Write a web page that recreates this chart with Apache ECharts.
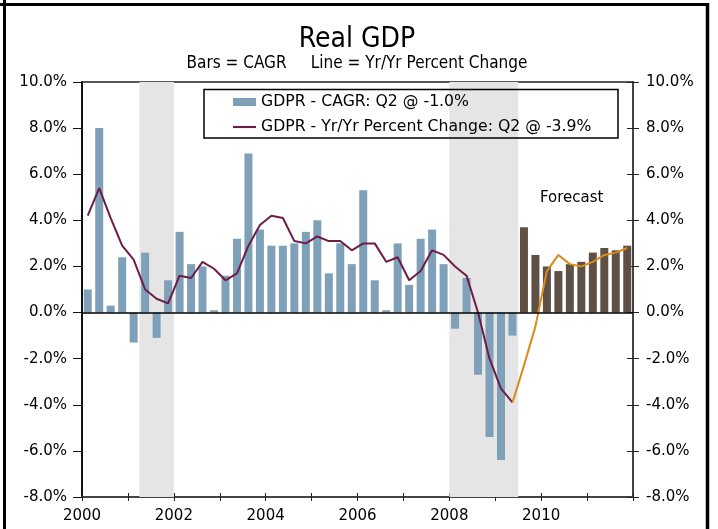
<!DOCTYPE html>
<html><head><meta charset="utf-8">
<script src="https://cdn.jsdelivr.net/npm/echarts@6/dist/echarts.min.js"></script>
<style>html,body{margin:0;padding:0;background:#fff}#c{width:718px;height:529px}</style>
</head><body><div id="c"></div>
<script>
// Quarterly categories 2000Q1 .. 2011Q4
const quarters = [
 '2000Q1','2000Q2','2000Q3','2000Q4','2001Q1','2001Q2','2001Q3','2001Q4',
 '2002Q1','2002Q2','2002Q3','2002Q4','2003Q1','2003Q2','2003Q3','2003Q4',
 '2004Q1','2004Q2','2004Q3','2004Q4','2005Q1','2005Q2','2005Q3','2005Q4',
 '2006Q1','2006Q2','2006Q3','2006Q4','2007Q1','2007Q2','2007Q3','2007Q4',
 '2008Q1','2008Q2','2008Q3','2008Q4','2009Q1','2009Q2','2009Q3','2009Q4',
 '2010Q1','2010Q2','2010Q3','2010Q4','2011Q1','2011Q2','2011Q3','2011Q4'
];
// CAGR bars (actual through 2009Q2, forecast after)
const cagrActual = [
 1.0, 8.0, 0.3, 2.4, -1.3, 2.6, -1.1, 1.4,
 3.5, 2.1, 2.0, 0.1, 1.6, 3.2, 6.9, 3.6,
 2.9, 2.9, 3.0, 3.5, 4.0, 1.7, 3.0, 2.1,
 5.3, 1.4, 0.1, 3.0, 1.2, 3.2, 3.6, 2.1,
 -0.7, 1.5, -2.7, -5.4, -6.4, -1.0,
 null, null, null, null, null, null, null, null, null, null
];
const cagrForecast = [
 null, null, null, null, null, null, null, null,
 null, null, null, null, null, null, null, null,
 null, null, null, null, null, null, null, null,
 null, null, null, null, null, null, null, null,
 null, null, null, null, null, null,
 3.7, 2.5, 2.0, 1.8, 2.1, 2.2, 2.6, 2.8, 2.7, 2.9
];
// Yr/Yr percent change line
const yoyActual = [
 4.2, 5.4, 4.1, 2.9, 2.3, 1.0, 0.6, 0.4,
 1.6, 1.5, 2.2, 1.9, 1.4, 1.7, 2.9, 3.8,
 4.2, 4.1, 3.1, 3.0, 3.3, 3.1, 3.1, 2.7,
 3.0, 3.0, 2.2, 2.4, 1.4, 1.8, 2.7, 2.5,
 2.0, 1.6, 0.0, -2.0, -3.3, -3.9,
 null, null, null, null, null, null, null, null, null, null
];
const yoyForecast = [
 null, null, null, null, null, null, null, null,
 null, null, null, null, null, null, null, null,
 null, null, null, null, null, null, null, null,
 null, null, null, null, null, null, null, null,
 null, null, null, null, null,
 -3.9, -2.3, -0.6, 1.8, 2.5, 2.1, 2.0, 2.2, 2.5, 2.6, 2.8
];
const yearLabels = ['2000','2002','2004','2006','2008','2010'];
const recessions = [[2001.25, 2002.0], [2008.0, 2009.5]];
const barName = 'GDPR - CAGR: Q2 @ -1.0%';
const lineName = 'GDPR - Yr/Yr Percent Change: Q2 @ -3.9%';

const FONT = "'DejaVu Sans', Verdana, sans-serif";
const NARROW = "'Liberation Sans Narrow', 'DejaVu Sans Condensed', 'Liberation Sans', sans-serif";

const chart = echarts.init(document.getElementById('c'), null, {renderer: 'canvas'});
const pct = v => v.toFixed(1) + '%';
const yBase = {type: 'value', min: -8, max: 10, interval: 2, splitLine: {show: false}};
const xVal = {type: 'value', min: 2000, max: 2012, interval: 1, splitLine: {show: false}};

chart.setOption({
  backgroundColor: '#fff',
  animation: false,
  grid: {left: 82, right: 85, top: 82, bottom: 32, containLabel: false},
  legend: {
    orient: 'vertical', left: 233, top: 94, padding: 0, itemWidth: 23, itemHeight: 8, itemGap: 9,
    textStyle: {fontFamily: FONT, fontSize: 15.7, color: '#000', lineHeight: 16},
    data: [
      {name: barName, icon: 'rect'},
      {name: lineName, icon: 'path://M0,0 L24,0 L24,2.2 L0,2.2 Z'}
    ]
  },
  xAxis: [
    {type: 'category', data: quarters, boundaryGap: true, show: false},
    Object.assign({}, xVal, {
      position: 'bottom',
      axisLine: {show: true, onZero: false, lineStyle: {color: '#444', width: 2}},
      axisTick: {show: true, length: 4, lineStyle: {color: '#222', width: 1}},
      axisLabel: {show: true, margin: 12, fontFamily: FONT, fontSize: 15, color: '#000',
        formatter: v => yearLabels.indexOf(String(v)) >= 0 ? String(v) : ''}
    }),
    Object.assign({}, xVal, {
      position: 'bottom',
      axisLine: {show: false, onZero: false},
      axisTick: {show: true, inside: true, length: 4, lineStyle: {color: '#222', width: 1}},
      axisLabel: {show: false}
    }),
    Object.assign({}, xVal, {
      position: 'top',
      axisLine: {show: true, onZero: false, lineStyle: {color: '#222', width: 1.5}},
      axisTick: {show: false}, axisLabel: {show: false}
    })
  ],
  yAxis: [
    Object.assign({}, yBase, {
      position: 'left',
      axisLine: {show: true, lineStyle: {color: '#111', width: 2}},
      axisTick: {show: true, length: 9, lineStyle: {color: '#111', width: 1}},
      axisLabel: {margin: 15, fontFamily: FONT, fontSize: 15, color: '#000', formatter: pct}
    }),
    Object.assign({}, yBase, {
      position: 'right',
      axisLine: {show: true, lineStyle: {color: '#444', width: 2}},
      axisTick: {show: true, length: 6, lineStyle: {color: '#222', width: 1}},
      axisLabel: {margin: 13, fontFamily: FONT, fontSize: 15, color: '#000', formatter: pct}
    }),
    Object.assign({}, yBase, {
      position: 'right',
      axisLine: {show: false},
      axisTick: {show: true, inside: true, length: 6, lineStyle: {color: '#222', width: 1}},
      axisLabel: {show: false}
    })
  ],
  series: [
    {
      type: 'line', xAxisIndex: 1, yAxisIndex: 0, data: [], silent: true, z: 0,
      markArea: {silent: true, itemStyle: {color: '#e5e5e5'},
        data: recessions.map(r => [{xAxis: r[0]}, {xAxis: r[1]}])}
    },
    {
      name: barName, type: 'bar', xAxisIndex: 0, yAxisIndex: 0, data: cagrActual,
      barWidth: 8, barGap: '-100%', itemStyle: {color: '#7ea1b9'}, z: 2
    },
    {
      name: 'Forecast CAGR', type: 'bar', xAxisIndex: 0, yAxisIndex: 0, data: cagrForecast,
      barWidth: 8, barGap: '-100%', itemStyle: {color: '#5f5046'}, z: 2
    },
    {
      name: lineName, type: 'line', xAxisIndex: 0, yAxisIndex: 0, data: yoyActual,
      symbol: 'none', lineStyle: {color: '#6d1c45', width: 2}, itemStyle: {color: '#6d1c45'}, z: 4
    },
    {
      name: 'Forecast YoY', type: 'line', xAxisIndex: 0, yAxisIndex: 0, data: yoyForecast,
      symbol: 'none', lineStyle: {color: '#d98b16', width: 2}, itemStyle: {color: '#d98b16'}, z: 4,
      markLine: {silent: true, symbol: 'none', label: {show: false},
        lineStyle: {color: '#000', type: 'solid', width: 1.5},
        data: [{yAxis: 0}]}
    }
  ],
  graphic: [
    {type: 'line', shape: {x1: 0, y1: 4.5, x2: 709, y2: 4.5}, style: {stroke: '#000', lineWidth: 3}},
    {type: 'line', shape: {x1: 4.5, y1: 0, x2: 4.5, y2: 529}, style: {stroke: '#000', lineWidth: 3}},
    {type: 'line', shape: {x1: 707.5, y1: 3, x2: 707.5, y2: 529}, style: {stroke: '#000', lineWidth: 3.5}},
    {type: 'rect', shape: {x: 204, y: 89.5, width: 414, height: 48.5},
      style: {fill: 'rgba(255,255,255,0)', stroke: '#000', lineWidth: 1.5}, z: 10},
    {type: 'text', x: 357, y: 40, style: {text: 'Real GDP', fontFamily: NARROW, fontSize: 28,
      fill: '#000', textAlign: 'center', textVerticalAlign: 'middle'}},
    {type: 'text', x: 357, y: 64, style: {text: 'Bars = CAGR     Line = Yr/Yr Percent Change',
      fontFamily: NARROW, fontSize: 17, fill: '#000', textAlign: 'center', textVerticalAlign: 'middle'}},
    {type: 'text', x: 540, y: 198, style: {text: 'Forecast', fontFamily: FONT, fontSize: 15,
      fill: '#000', textAlign: 'left', textVerticalAlign: 'middle'}}
  ]
});
</script>
</body></html>
